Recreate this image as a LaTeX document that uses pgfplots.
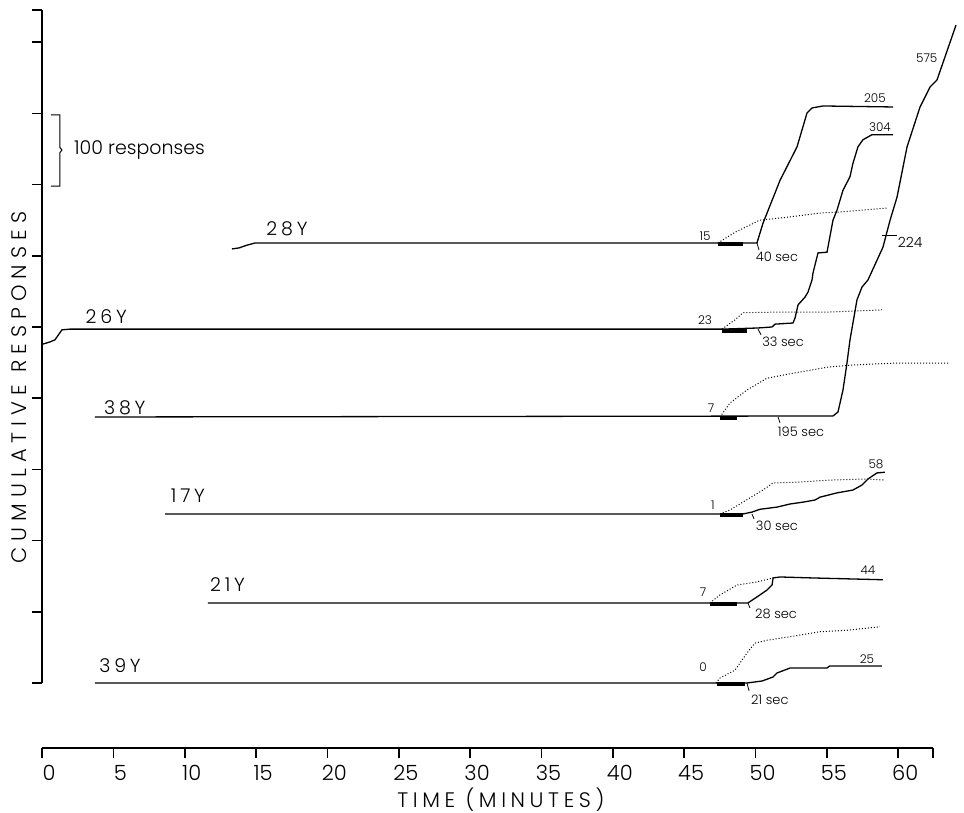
\documentclass[border=0pt]{standalone}
\usepackage{fontspec}
\setmainfont{Poppins}[UprightFont=* Light]
\usepackage{pgfplots}
\pgfplotsset{compat=1.18}
\newcommand\numf{\fontsize{6}{7}\selectfont}
\newcommand\secf{\fontsize{6.5}{7.5}\selectfont}
\newcommand\subjf{\fontsize{9.5}{10}\selectfont\addfontfeature{LetterSpace=20}}
\begin{document}
\begin{tikzpicture}
\begin{axis}[
  x=7.135pt, y=0.356pt,
  xmin=0, xmax=62.44, ymin=-91.3, ymax=945,
  axis x line=bottom, axis y line=left,
  axis line style={-, line width=0.8pt},
  y axis line style={shorten <=32.5pt},
  tick align=outside,
  major tick length=5pt,
  tick style={line width=0.8pt, black},
  xtick={0,5,...,60},
  extra x ticks={62.44}, extra x tick labels={},
  ytick={0,100,...,900,945},
  yticklabels={},
  /pgf/number format/assume math mode=true,
  xticklabel style={font=\fontsize{10.5}{12}\selectfont, xshift=3.5pt},
  xlabel={TIME (MINUTES)},
  ylabel={CUMULATIVE RESPONSES},
  x label style={at={(axis description cs:0.515,0)}, anchor=center, yshift=-26pt,
    font=\fontsize{10.5}{12}\selectfont\addfontfeature{LetterSpace=22}},
  y label style={at={(axis description cs:-0.0258,0.488)}, anchor=center,
    font=\fontsize{10.5}{12}\selectfont\addfontfeature{LetterSpace=29}},
  clip=false,
  rec/.style={black, solid, mark=none, line width=0.65pt},
  dot/.style={black, densely dotted, mark=none, line width=0.5pt},
  bar/.style={black, solid, mark=none, line width=2pt},
]
% ---- 28Y ----
\addplot[rec] coordinates {(13.31,609.6) (13.8,611) (14.3,614.5) (14.93,618) (47.37,618) (50.1,618) (50.53,646) (51.72,706) (52.91,753) (53.61,800.6) (53.96,807.6) (54.73,810.4) (59.64,809)};
\addplot[dot] coordinates {(47.37,618) (48.56,633) (50.3,650) (52.4,654.5) (54.5,660) (55.9,661.5) (59.2,667)};
\addplot[bar] coordinates {(47.37,616) (49.12,616)};
% ---- 26Y ----
\addplot[rec] coordinates {(0.07,476) (0.56,479) (0.91,482) (1.40,496) (1.96,497) (47.65,497) (50.18,498.6) (51.16,500) (51.37,504) (52.63,505.6) (52.77,512.6) (52.98,531) (53.47,542) (53.68,549) (53.96,566) (54.03,576) (54.38,604) (55.01,605) (55.43,650) (55.71,664) (56.13,692) (56.62,711) (56.83,730) (57.18,753) (57.53,763) (58.16,770) (59.64,770)};
\addplot[dot] coordinates {(47.65,497) (48.56,510) (49.12,520) (51.72,521) (55.2,521) (58.86,524)};
\addplot[bar] coordinates {(47.65,495) (49.40,495)};
% ---- 38Y ----
\addplot[rec] coordinates {(3.71,373.6) (55.43,375) (55.78,380.6) (56.13,411.5) (56.41,449.4) (56.62,481.7) (57.11,538) (57.46,556) (57.88,566) (58.93,612) (59.43,650) (59.92,682.6) (60.62,753) (61.53,809) (62.23,837) (62.72,847) (64.05,924)};
\addplot[dot] coordinates {(47.51,373.6) (48.2,393) (49.4,411.5) (50.8,428) (52.6,435) (55.2,444) (56.8,446.6) (59.9,449.4) (63.6,449.4)};
\addplot[bar] coordinates {(47.51,371.6) (48.70,371.6)};
% ---- 17Y ----
\addplot[rec] coordinates {(8.62,237.4) (49.12,237.4) (49.75,240) (50.32,244) (51.5,247) (52.42,251.4) (53.33,254) (54.17,257) (54.52,261) (55.71,267) (56.83,271) (57.46,278) (57.88,286.5) (58.51,295) (59.07,296)};
\addplot[dot] coordinates {(47.51,237.4) (48.21,243) (49.61,260) (50.53,271) (51.23,281) (52.91,282) (55.22,285) (57.81,286.5) (59.07,285)};
\addplot[bar] coordinates {(47.51,235.4) (49.12,235.4)};
% ---- 21Y ----
\addplot[rec] coordinates {(11.63,112.4) (49.47,112.4) (50.1,120.8) (50.81,130.6) (51.16,137.6) (51.23,147.5) (51.72,148.9) (54.03,147.5) (58.93,145)};
\addplot[dot] coordinates {(46.81,112.4) (47.51,123.6) (48.7,137.6) (50.1,141.9) (51.23,147.5)};
\addplot[bar] coordinates {(46.81,110.4) (48.70,110.4)};
% ---- 39Y ----
\addplot[rec] coordinates {(3.71,0) (49.4,0) (50.46,2.8) (51.23,8.4) (51.5,14) (52.42,21) (55.0,21) (55.22,24) (58.86,24)};
\addplot[dot] coordinates {(47.23,0) (47.51,7) (48.56,18) (49.4,42) (49.96,56) (50.81,60) (52.42,65) (54.52,72) (56.41,74) (58.72,79)};
\addplot[bar] coordinates {(47.30,-2) (49.26,-2)};
% ---- tick marks of latencies ----
\draw[line width=0.4pt] (axis cs:50.1,618) -- (axis cs:50.25,608);
\draw[line width=0.4pt] (axis cs:50.18,497) -- (axis cs:50.39,488.8);
\draw[line width=0.4pt] (axis cs:51.58,373.6) -- (axis cs:51.72,365);
\draw[line width=0.4pt] (axis cs:49.75,237.4) -- (axis cs:49.9,230.3);
\draw[line width=0.4pt] (axis cs:49.47,112.4) -- (axis cs:49.61,105.3);
\draw[line width=0.4pt] (axis cs:49.4,0) -- (axis cs:49.55,-11);
\draw[line width=0.5pt] (axis cs:58.86,629) -- (axis cs:59.92,629);
% ---- labels ----
\node[font=\subjf] at (axis cs:17.17,638) {28Y};
\node[font=\subjf] at (axis cs:4.5,515) {26Y};
\node[font=\subjf] at (axis cs:5.8,386) {38Y};
\node[font=\subjf] at (axis cs:10.23,262.6) {17Y};
\node[font=\subjf] at (axis cs:13.0,137.6) {21Y};
\node[font=\subjf] at (axis cs:5.47,23.9) {39Y};
\node[font=\numf] at (axis cs:46.46,627.8) {15};
\node[font=\numf] at (axis cs:46.46,509.8) {23};
\node[font=\numf] at (axis cs:46.88,386) {7};
\node[font=\numf] at (axis cs:47.02,250) {1};
\node[font=\numf] at (axis cs:46.32,127.8) {7};
\node[font=\numf] at (axis cs:46.32,22.5) {0};
\node[font=\secf] at (axis cs:51.5,598) {40 sec};
\node[font=\secf] at (axis cs:51.93,479) {33 sec};
\node[font=\secf] at (axis cs:53.19,352.5) {195 sec};
\node[font=\secf] at (axis cs:51.5,220.5) {30 sec};
\node[font=\secf] at (axis cs:51.44,97) {28 sec};
\node[font=\secf] at (axis cs:51.0,-23.9) {21 sec};
\node[font=\numf] at (axis cs:58.37,821.6) {205};
\node[font=\numf] at (axis cs:58.72,781) {304};
\node[font=\fontsize{7}{8}\selectfont] at (axis cs:60.83,619.4) {224};
\node[font=\numf] at (axis cs:62.0,878) {575};
\node[font=\numf] at (axis cs:58.44,307.6) {58};
\node[font=\numf] at (axis cs:57.88,158.7) {44};
\node[font=\numf] at (axis cs:57.81,33.7) {25};
% ---- scale bracket ----
\draw[line width=0.5pt] (axis cs:0.63,698) -- (axis cs:1.26,698) -- (axis cs:1.26,745) -- (axis cs:1.4,748.6) -- (axis cs:1.26,752) -- (axis cs:1.26,797.8) -- (axis cs:0.63,797.8);
\node[anchor=west, font=\fontsize{9.5}{10}\selectfont] at (axis cs:1.75,748.6) {100 responses};
\end{axis}
\pgfresetboundingbox
\path (current axis.south west) ++(-21pt,-32.5pt) rectangle ++(482pt,406.5pt);
\end{tikzpicture}
\end{document}
